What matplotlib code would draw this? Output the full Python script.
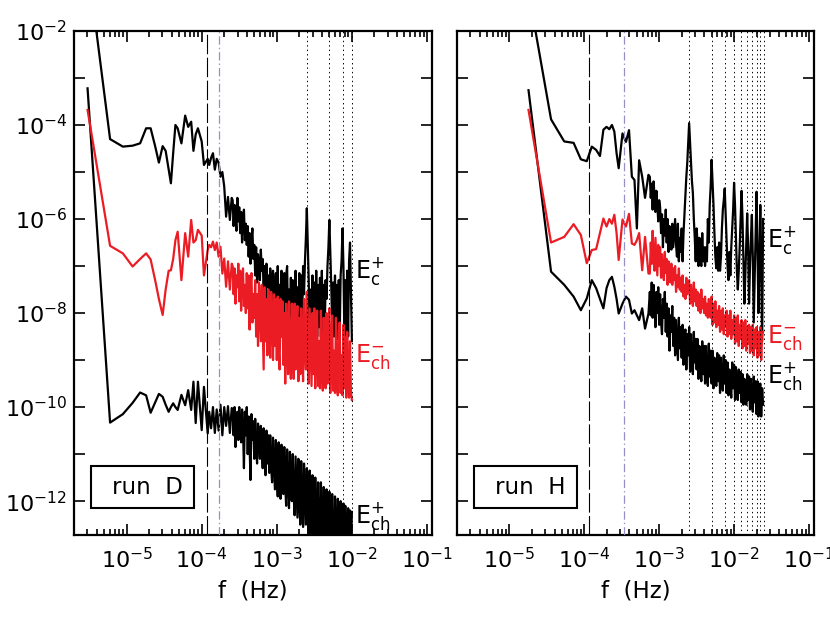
import numpy as np
import matplotlib
matplotlib.use("Agg")
import matplotlib.pyplot as plt
from matplotlib.patches import Rectangle
from matplotlib.ticker import FixedLocator, FuncFormatter, LogLocator, NullFormatter, NullLocator

plt.rcParams['font.family'] = ['DejaVu Sans']
plt.rcParams['mathtext.default'] = 'regular'
plt.rcParams['lines.scale_dashes'] = False

RED = '#ec1c24'
PURPLE = '#9790c6'

# ---------------- run D : log10 f (Hz) and log10 E ----------------
d_logf = [-5.52, -5.22, -5.05, -4.92, -4.82, -4.74, -4.68, -4.62, -4.57, -4.52,
          -4.48, -4.44, -4.41, -4.38, -4.35, -4.32, -4.27, -4.22, -4.18, -4.14,
          -4.11, -4.08, -4.05, -4.00, -3.97, -3.92,
          -3.900, -3.875, -3.850, -3.825, -3.800, -3.775, -3.750, -3.725, -3.700, -3.675,
          -3.650, -3.625, -3.600,
          -3.5875, -3.575, -3.5625, -3.55, -3.5375, -3.525, -3.5125, -3.50,
          -3.4875, -3.475, -3.4625, -3.45, -3.4375, -3.425, -3.4125, -3.40,
          -3.3875, -3.375, -3.3625, -3.35, -3.3375, -3.325, -3.3125, -3.30,
          -3.2875, -3.275, -3.2625, -3.25, -3.2375, -3.225, -3.2125, -3.20,
          -3.1875, -3.175, -3.1625, -3.15, -3.1375, -3.125, -3.1125, -3.10,
          -3.0875, -3.075, -3.0625, -3.05, -3.0375, -3.025, -3.0125, -3.00,
          -2.9875, -2.975, -2.9625, -2.95, -2.9375, -2.925, -2.9125, -2.90,
          -2.8875, -2.875, -2.8625, -2.85, -2.8375, -2.825, -2.8125, -2.80,
          -2.7875, -2.775, -2.7625, -2.75, -2.7375, -2.725, -2.7125, -2.70,
          -2.6875, -2.675, -2.6625, -2.65, -2.6375, -2.625, -2.6125, -2.60,
          -2.5875, -2.575, -2.5625, -2.55, -2.5375, -2.525, -2.5125, -2.50,
          -2.4875, -2.475, -2.4625, -2.45, -2.4375, -2.425, -2.4125, -2.40,
          -2.3875, -2.375, -2.3625, -2.35, -2.3375, -2.325, -2.3125, -2.30,
          -2.2875, -2.275, -2.2625, -2.25, -2.2375, -2.225, -2.2125, -2.20,
          -2.1875, -2.175, -2.1625, -2.15, -2.1375, -2.125, -2.1125, -2.10,
          -2.0875, -2.075, -2.0625, -2.05, -2.0375, -2.025, -2.0125, -2.00]

d_ec_plus = [-0.53, -4.30, -4.46, -4.44, -4.39, -4.07, -4.07, -4.45, -4.80, -4.45,
             -4.55, -4.95, -5.24, -4.60, -4.00, -4.07, -4.39, -3.80, -4.04, -3.93,
             -4.55, -4.20, -4.07, -4.35, -4.85, -4.72,
             -4.85, -4.70, -4.60, -4.95, -4.72, -4.80, -5.10, -5.00, -5.31, -5.95,
             -5.53, -6.02, -5.55,
             -5.60, -6.15, -5.70, -5.95, -6.25, -5.55, -6.05, -5.75,
             -6.30, -5.85, -6.50, -6.00, -5.80, -6.45, -6.10, -6.55,
             -6.15, -6.80, -6.30, -6.95, -6.45, -6.20, -6.85, -6.55,
             -7.20, -6.60, -7.35, -6.75, -6.95, -7.30, -6.65, -7.10,
             -6.85, -7.55, -7.00, -7.70, -6.95, -7.45, -7.20, -7.80,
             -7.05, -7.90, -7.30, -7.10, -8.00, -7.40, -7.15, -7.95,
             -7.00, -8.10, -7.40, -8.20, -7.10, -7.70, -8.15, -7.15,
             -8.25, -7.20, -7.00, -8.30, -7.50, -8.10, -7.25, -8.35,
             -7.30, -8.40, -7.60, -7.10, -8.30, -7.45, -8.40, -7.15,
             -8.35, -7.20, -8.20, -7.00, -7.60, -6.90, -6.40, -5.77,
             -6.50, -7.30, -8.40, -7.50, -8.45, -7.20, -8.30, -7.35,
             -8.45, -7.10, -8.50, -7.40, -8.30, -7.25, -8.50, -7.10,
             -8.40, -7.40, -8.50, -7.30, -7.70, -7.00, -6.60, -6.02,
             -6.70, -7.40, -8.30, -7.35, -8.50, -7.20, -8.45, -7.40,
             -8.55, -7.30, -8.50, -7.20, -6.90, -6.20, -7.00, -8.50,
             -7.30, -8.60, -7.10, -8.50, -6.90, -6.50, -7.60, -8.60]

d_ech_minus = [-3.68, -6.57, -6.73, -7.01, -6.85, -6.73, -6.86, -7.30, -7.70, -8.04,
               -7.50, -7.10, -7.09, -6.85, -6.45, -6.27, -7.30, -6.30, -6.80, -6.02,
               -6.50, -6.45, -6.23, -6.35, -7.20, -6.66,
               -6.55, -6.60, -6.48, -6.66, -6.50, -6.80, -6.59, -7.16, -6.84, -7.44,
               -6.90, -7.50, -6.95,
               -7.00, -7.60, -7.05, -7.80, -7.20, -7.45, -6.95, -7.75,
               -7.10, -7.95, -7.30, -7.05, -7.85, -7.40, -8.00, -7.15,
               -7.90, -7.20, -8.35, -7.45, -7.15, -8.20, -7.60, -8.10,
               -7.30, -8.50, -7.60, -8.70, -7.35, -8.00, -8.60, -7.40,
               -8.30, -9.20, -7.45, -8.60, -7.70, -8.90, -7.50, -8.40,
               -8.95, -7.55, -8.20, -9.00, -7.60, -8.70, -7.70, -9.00,
               -7.65, -8.80, -9.20, -7.70, -8.50, -7.75, -9.10, -8.00,
               -9.50, -7.80, -8.60, -9.30, -7.75, -8.90, -9.40, -7.80,
               -8.40, -9.40, -7.80, -9.20, -8.20, -7.85, -9.45, -8.10,
               -9.30, -7.90, -8.80, -9.45, -7.70, -8.60, -9.20, -7.55,
               -8.90, -9.50, -7.90, -8.70, -9.55, -8.00, -9.30, -7.90,
               -9.60, -8.30, -7.95, -9.55, -8.60, -9.60, -7.95, -9.10,
               -9.65, -8.10, -8.70, -9.60, -8.00, -9.50, -8.40, -7.90,
               -9.70, -8.50, -8.05, -9.65, -8.80, -9.70, -8.10, -9.40,
               -9.75, -8.40, -8.20, -9.70, -8.90, -9.75, -8.25, -9.60,
               -8.50, -9.80, -8.40, -9.35, -9.80, -8.60, -9.70, -9.85]

d_ech_plus = [-3.22, -10.33, -10.15, -9.91, -9.69, -9.75, -10.12, -9.90, -9.72, -9.78,
              -9.95, -10.10, -10.00, -9.92, -10.00, -10.06, -9.74, -9.96, -9.64, -10.06,
              -9.46, -10.34, -9.46, -10.49, -9.57, -10.56,
              -10.10, -10.45, -10.00, -10.55, -10.05, -10.50, -9.95, -10.60, -10.00, -10.40,
              -9.98, -10.55, -10.02,
              -10.05, -10.60, -10.00, -10.85, -10.30, -10.10, -10.70, -10.00,
              -10.50, -10.75, -10.05, -10.45, -11.30, -10.10, -10.60, -10.00,
              -11.00, -10.20, -10.80, -11.55, -10.15, -10.70, -10.30, -11.10,
              -10.25, -10.90, -11.20, -10.35, -10.70, -11.10, -10.40, -10.95,
              -11.30, -10.45, -11.05, -11.45, -10.50, -11.20, -10.60, -11.40,
              -10.60, -11.30, -11.60, -10.65, -11.20, -11.75, -10.70, -11.40,
              -11.90, -10.75, -11.50, -11.95, -10.80, -11.40, -11.85, -10.85,
              -11.70, -12.10, -10.90, -11.60, -12.15, -10.95, -11.80, -12.00,
              -11.00, -11.90, -12.30, -11.05, -11.70, -12.35, -11.10, -12.00,
              -12.50, -11.15, -12.10, -12.55, -11.20, -11.90, -12.50, -11.30,
              -12.20, -12.80, -11.35, -12.40, -12.90, -11.45, -12.30, -13.00,
              -11.50, -12.60, -13.00, -11.60, -12.50, -13.00, -11.60, -12.80,
              -13.00, -11.70, -12.70, -13.00, -11.75, -12.60, -13.00, -11.80,
              -12.80, -13.00, -11.85, -12.90, -13.00, -11.90, -12.70, -13.00,
              -11.95, -12.90, -13.00, -12.00, -12.80, -13.00, -12.05, -13.00,
              -12.10, -12.90, -13.00, -12.15, -13.00, -12.20, -13.00, -12.23]

d_f_dashed = 1.17e-4
d_f_dashdot = 1.69e-4
d_harmonics = [0.0025, 0.005, 0.0075, 0.01]

# ---------------- run H ----------------
h_logf = [-4.745, -4.444, -4.268, -4.143, -4.046, -3.967, -3.900, -3.842, -3.791, -3.745,
          -3.703, -3.666, -3.631, -3.599, -3.569, -3.541, -3.490, -3.444, -3.403, -3.365,
          -3.330, -3.298, -3.268, -3.227, -3.189, -3.143,
          -3.125, -3.1125, -3.10,
          -3.0875, -3.075, -3.0625, -3.05, -3.0375, -3.025, -3.0125, -3.00,
          -2.9875, -2.975, -2.9625, -2.95, -2.9375, -2.925, -2.9125, -2.90,
          -2.8875, -2.875, -2.8625, -2.85, -2.8375, -2.825, -2.8125, -2.80,
          -2.7875, -2.775, -2.7625, -2.75, -2.7375, -2.725, -2.7125, -2.70,
          -2.6875, -2.675, -2.6625, -2.65, -2.6375, -2.625, -2.6125, -2.60,
          -2.5875, -2.575, -2.5625, -2.55, -2.5375, -2.525, -2.5125, -2.50,
          -2.4875, -2.475, -2.4625, -2.45, -2.4375, -2.425, -2.4125, -2.40,
          -2.3875, -2.375, -2.3625, -2.35, -2.3375, -2.325, -2.3125, -2.30,
          -2.2875, -2.275, -2.2625, -2.25, -2.2375, -2.225, -2.2125, -2.20,
          -2.1875, -2.175, -2.1625, -2.15, -2.1375, -2.125, -2.1125, -2.10,
          -2.0875, -2.075, -2.0625, -2.05, -2.0375, -2.025, -2.0125, -2.00,
          -1.9875, -1.975, -1.9625, -1.95, -1.9375, -1.925, -1.9125, -1.90,
          -1.8875, -1.875, -1.8625, -1.85, -1.8375, -1.825, -1.8125, -1.80,
          -1.7875, -1.775, -1.7625, -1.75, -1.7375, -1.725, -1.7125, -1.70,
          -1.6875, -1.675, -1.6625, -1.65, -1.6375, -1.625, -1.6125]

h_ec_plus = [-1.16, -3.88, -4.35, -4.38, -4.73, -4.77, -4.46, -4.53, -4.66, -4.10,
             -4.04, -4.09, -4.00, -4.14, -4.60, -4.92, -4.18, -4.36, -4.11, -5.10,
             -5.17, -6.20, -4.75, -5.10, -5.55, -5.06,
             -5.10, -5.55, -5.25,
             -5.80, -5.20, -5.50, -5.85, -5.40, -5.70, -6.05, -5.60,
             -5.75, -6.30, -5.90, -6.60, -6.00, -6.35, -5.80, -6.50,
             -6.00, -6.70, -6.15, -6.45, -6.65, -6.10, -6.60, -6.30,
             -6.00, -6.55, -6.80, -6.10, -6.90, -6.40, -6.70, -6.20,
             -6.90, -6.30, -5.90, -5.50, -5.10, -4.80, -4.40, -3.96,
             -4.40, -4.80, -5.20, -5.45, -6.00, -6.40, -6.90, -6.20,
             -6.50, -7.00, -6.40, -6.80, -7.00, -6.30, -6.90, -6.60,
             -7.00, -6.60, -6.90, -6.00, -6.50, -5.70, -5.30, -4.74,
             -5.20, -5.70, -6.30, -6.80, -7.05, -6.60, -7.10, -6.50,
             -7.10, -6.80, -6.20, -5.80, -5.60, -5.35, -5.90, -6.40,
             -7.00, -7.30, -6.70, -7.20, -6.60, -6.20, -5.80, -5.23,
             -5.70, -6.40, -7.10, -7.50, -7.10, -6.60, -6.00, -5.40,
             -6.00, -6.90, -7.80, -7.20, -6.50, -5.88, -6.60, -7.80,
             -7.00, -6.40, -5.91, -6.80, -8.20, -7.30, -6.40, -5.42,
             -6.60, -8.00, -7.00, -5.70, -7.20, -8.60, -6.00]

h_ech_minus = [-3.68, -6.50, -6.38, -6.11, -6.34, -6.94, -6.66, -6.64, -6.30, -5.99,
               -6.16, -6.00, -6.10, -5.91, -6.30, -6.87, -6.01, -6.16, -5.89, -6.52,
               -6.55, -6.45, -6.30, -7.09, -6.38, -7.16,
               -7.16, -6.50, -6.95,
               -6.25, -6.90, -7.10, -6.40, -6.80, -7.20, -6.55, -7.00,
               -6.60, -7.25, -6.75, -7.05, -7.30, -6.70, -7.15, -6.85,
               -7.40, -6.90, -7.20, -7.35, -6.95, -7.40, -7.05, -7.30,
               -7.00, -7.55, -7.20, -7.45, -7.05, -7.50, -7.25, -7.55,
               -7.20, -7.65, -7.40, -7.70, -7.25, -7.60, -7.45, -7.30,
               -7.80, -7.40, -7.65, -7.85, -7.35, -7.75, -7.50, -7.85,
               -7.55, -7.95, -7.60, -8.00, -7.50, -7.90, -7.70, -8.00,
               -7.65, -8.05, -7.80, -8.10, -7.70, -7.95, -8.10, -7.65,
               -8.25, -7.80, -8.20, -7.75, -8.30, -7.95, -8.25, -7.85,
               -8.40, -7.95, -8.35, -7.90, -8.45, -8.05, -8.30, -7.95,
               -8.50, -8.05, -8.45, -7.95, -8.55, -8.15, -8.45, -8.05,
               -8.65, -8.10, -8.60, -8.05, -8.70, -8.25, -8.55, -8.15,
               -8.75, -8.20, -8.70, -8.15, -8.80, -8.30, -8.65, -8.25,
               -8.85, -8.30, -8.80, -8.25, -8.90, -8.35, -8.75, -8.30,
               -8.95, -8.40, -8.90, -8.30, -9.00, -8.45, -8.40]

h_ech_plus = [-3.26, -7.12, -7.40, -7.65, -7.94, -7.69, -7.30, -7.47, -7.70, -7.90,
              -7.47, -7.30, -7.23, -7.44, -7.70, -8.01, -7.80, -7.65, -7.72, -8.01,
              -7.94, -8.05, -8.15, -7.90, -8.33, -8.01,
              -7.55, -8.05, -7.35,
              -8.10, -7.40, -7.80, -8.30, -7.55, -8.00, -7.45, -8.25,
              -7.60, -8.20, -8.45, -7.70, -8.10, -7.55, -8.40, -7.80,
              -8.50, -7.90, -8.80, -8.05, -8.40, -7.85, -8.70, -8.10,
              -8.90, -8.15, -8.60, -9.00, -8.10, -8.75, -8.30, -8.95,
              -8.25, -9.10, -8.50, -8.35, -9.20, -8.45, -8.90, -8.30,
              -9.25, -8.45, -8.95, -9.30, -8.40, -9.05, -8.55, -9.20,
              -8.55, -9.40, -8.70, -9.10, -9.45, -8.60, -9.30, -8.70,
              -9.50, -8.70, -9.25, -9.55, -8.65, -9.35, -8.80, -9.50,
              -8.80, -9.60, -8.95, -9.30, -9.55, -8.85, -9.45, -8.90,
              -9.70, -8.95, -9.40, -9.65, -8.90, -9.50, -9.00, -9.70,
              -9.05, -9.75, -9.20, -9.55, -9.80, -9.05, -9.60, -9.10,
              -9.85, -9.15, -9.60, -9.85, -9.20, -9.70, -9.25, -9.90,
              -9.30, -9.95, -9.40, -9.75, -9.95, -9.30, -9.85, -9.35,
              -10.05, -9.40, -9.80, -10.10, -9.35, -9.90, -9.45, -10.15,
              -9.45, -10.20, -9.70, -9.50, -10.20, -9.60, -9.95]

h_f_dashed = 1.14e-4
h_f_dashdot = 3.4e-4
h_harmonics = [0.0025, 0.005, 0.0075, 0.01, 0.0125, 0.015, 0.0175, 0.02, 0.0225, 0.025]

y_exponents = [-12, -11, -10, -9, -8, -7, -6, -5, -4, -3, -2]


def even_label(v, pos):
    e = int(round(np.log10(v)))
    return r'$10^{%d}$' % e if e % 2 == 0 else ''


def draw_panel(ax, logf, cp, chm, chp, f_dash, f_dashdot, harmonics, run, show_y):
    f = 10.0 ** np.array(logf)
    ax.set_xscale('log')
    ax.set_yscale('log')

    ax.plot(f, 10.0 ** np.array(cp), color='k', lw=1.6, zorder=2)
    ax.plot(f, 10.0 ** np.array(chp), color='k', lw=1.6, zorder=2)
    ax.plot(f, 10.0 ** np.array(chm), color=RED, lw=1.6, zorder=2)

    for fh in harmonics:
        ax.axvline(fh, color='k', lw=0.7, ls=(0, (1.0, 2.2)), zorder=3)
    ax.axvline(f_dash, color='k', lw=0.8, ls=(0, (14, 2.5)), zorder=3)
    ax.axvline(f_dashdot, color=PURPLE, lw=0.9, ls=(0, (6, 2.2, 1, 2.2)), zorder=3)

    ax.set_xlim(10 ** -5.7, 10 ** -0.933)
    ax.set_ylim(10 ** -12.72, 1e-2)

    ax.xaxis.set_major_locator(LogLocator(base=10, numticks=12))
    ax.xaxis.set_minor_locator(LogLocator(base=10, subs=np.arange(2, 10), numticks=12))
    ax.xaxis.set_minor_formatter(NullFormatter())
    ax.yaxis.set_major_locator(FixedLocator([10.0 ** e for e in y_exponents]))
    ax.yaxis.set_minor_locator(NullLocator())
    if show_y:
        ax.yaxis.set_major_formatter(FuncFormatter(even_label))
    else:
        ax.yaxis.set_major_formatter(NullFormatter())

    ax.tick_params(which='both', direction='in', top=True, right=True, width=1.2,
                   labelsize=16)
    ax.tick_params(which='major', length=8)
    ax.tick_params(which='minor', length=4)
    ax.tick_params(axis='x', pad=9)
    ax.tick_params(axis='y', pad=5)
    for s in ax.spines.values():
        s.set_linewidth(1.6)

    ax.set_xlabel('f  (Hz)', fontsize=16.5, labelpad=5)

    ax.add_patch(Rectangle((0.048, 0.054), 0.288, 0.083, transform=ax.transAxes,
                           fill=False, lw=1.5, color='k', zorder=4))
    ax.text(0.305, 0.095, 'run  ' + run, transform=ax.transAxes, ha='right',
            va='center', fontsize=16.5)


fig = plt.figure(figsize=(8.3, 6.23), dpi=100)
ax1 = fig.add_axes([0.0892, 0.1413, 0.4313, 0.809])
ax2 = fig.add_axes([0.5506, 0.1413, 0.4301, 0.809])

draw_panel(ax1, d_logf, d_ec_plus, d_ech_minus, d_ech_plus,
           d_f_dashed, d_f_dashdot, d_harmonics, 'D', True)
draw_panel(ax2, h_logf, h_ec_plus, h_ech_minus, h_ech_plus,
           h_f_dashed, h_f_dashdot, h_harmonics, 'H', False)

lab_c = r'$\mathrm{E}_{\mathrm{c}}^{+}$'
lab_chm = r'$\mathrm{E}_{\mathrm{ch}}^{-}$'
lab_chp = r'$\mathrm{E}_{\mathrm{ch}}^{+}$'

ax1.text(0.785, 0.51, lab_c, transform=ax1.transAxes, fontsize=17, va='baseline', color='k')
ax1.text(0.785, 0.343, lab_chm, transform=ax1.transAxes, fontsize=17, va='baseline', color=RED)
ax1.text(0.785, 0.024, lab_chp, transform=ax1.transAxes, fontsize=17, va='baseline', color='k',
         clip_on=False)
ax2.text(0.868, 0.571, lab_c, transform=ax2.transAxes, fontsize=17, va='baseline', color='k')
ax2.text(0.868, 0.381, lab_chm, transform=ax2.transAxes, fontsize=17, va='baseline', color=RED)
ax2.text(0.868, 0.302, lab_chp, transform=ax2.transAxes, fontsize=17, va='baseline', color='k')

fig.savefig('out.png', dpi=100)
